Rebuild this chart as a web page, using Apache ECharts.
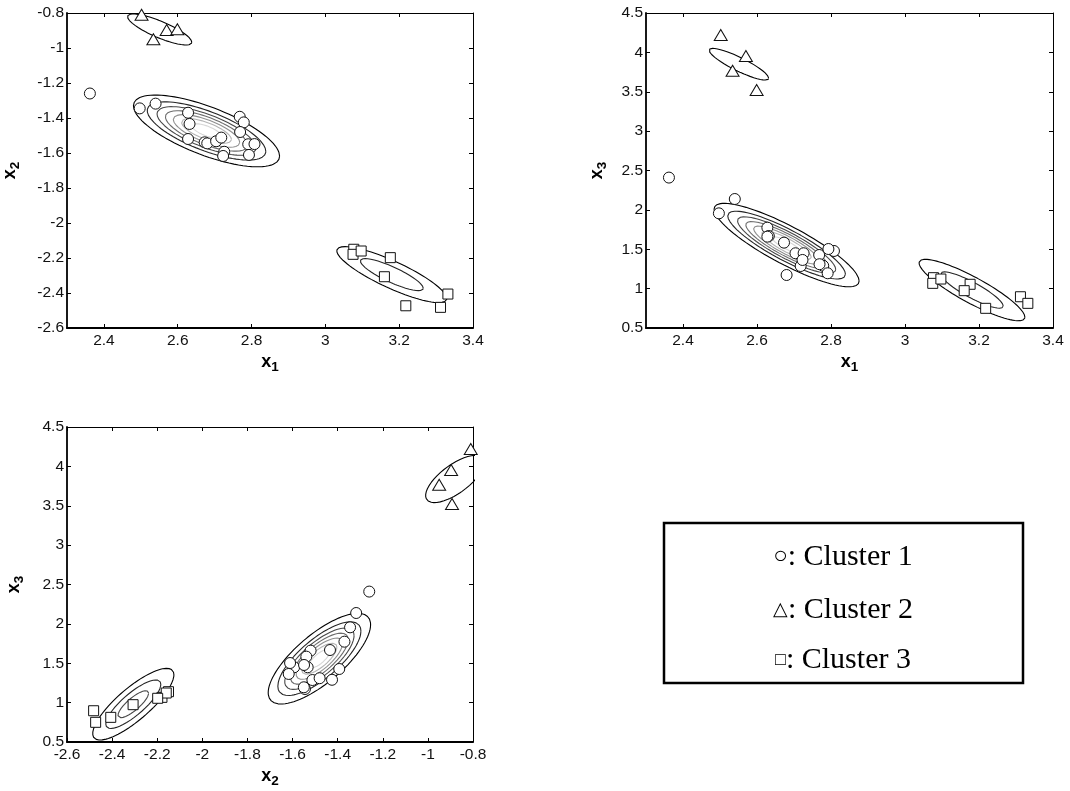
<!DOCTYPE html>
<html><head><meta charset="utf-8">
<script src="https://cdn.jsdelivr.net/npm/echarts@6/dist/echarts.min.js"></script>
<style>html,body{margin:0;padding:0;background:#fff}#c{width:1070px;height:791px}</style>
</head><body><div id="c"></div>
<script>
// ---------- data ----------
// Cluster 1 (circles)
const c1_x1 = [2.362, 2.497, 2.540, 2.628, 2.632, 2.628, 2.673, 2.680, 2.704, 2.718, 2.726, 2.723, 2.768, 2.779, 2.769, 2.791, 2.808, 2.793];
const c1_x2 = [-1.260, -1.345, -1.318, -1.370, -1.434, -1.520, -1.539, -1.545, -1.533, -1.512, -1.593, -1.617, -1.393, -1.425, -1.480, -1.550, -1.549, -1.611];
const c1_x3 = [2.410, 1.956, 2.138, 1.774, 1.668, 1.660, 1.584, 1.173, 1.449, 1.287, 1.449, 1.364, 1.427, 1.290, 1.310, 1.195, 1.478, 1.503];
// Cluster 2 (triangles)
const c2_x1 = [2.502, 2.570, 2.534, 2.599];
const c2_x2 = [-0.810, -0.897, -0.950, -0.893];
const c2_x3 = [4.220, 3.954, 3.767, 3.522];
// Cluster 3 (squares)
const c3_x1 = [3.077, 3.075, 3.097, 3.176, 3.160, 3.218, 3.312, 3.332];
const c3_x2 = [-2.150, -2.179, -2.160, -2.198, -2.307, -2.473, -2.482, -2.406];
const c3_x3 = [1.139, 1.067, 1.122, 1.055, 0.974, 0.750, 0.897, 0.813];

// axis ranges and tick labels
const rangeX1 = [2.3, 3.4];
const rangeX2 = [-2.6, -0.8];
const rangeX3 = [0.5, 4.5];
const ticksX1 = [2.4, 2.6, 2.8, 3, 3.2, 3.4];
const ticksX2 = [-2.6, -2.4, -2.2, -2, -1.8, -1.6, -1.4, -1.2, -1, -0.8];
const ticksX3 = [0.5, 1, 1.5, 2, 2.5, 3, 3.5, 4, 4.5];

// density-contour model per panel and cluster:
// [centre x, centre y, spread x, spread y, correlation, peak/level ratio]
const contourX1X2 = [[2.678, -1.474, 0.198, 0.205, -0.70, 7.6], [2.551, -0.894, 0.087, 0.0886, -0.82, 1.6], [3.180, -2.295, 0.149, 0.160, -0.85, 2.8]];
const contourX1X3 = [[2.680, 1.553, 0.196, 0.530, -0.86, 7.6], [2.551, 3.850, 0.0805, 0.201, -0.88, 1.6], [3.181, 0.982, 0.143, 0.390, -0.88, 2.9]];
const contourX2X3 = [[-1.481, 1.558, 0.227, 0.576, 0.75, 7.6], [-0.880, 3.840, 0.130, 0.300, 0.70, 1.6], [-2.306, 0.980, 0.180, 0.455, 0.82, 3.6]];

const legendSymbols = ['\u25CB', '\u25B3', '\u25A1'];
const legendNames = ['Cluster 1', 'Cluster 2', 'Cluster 3'];

// ---------- build ----------
const FONT = '"Liberation Sans", Arial, sans-serif';
const SERIF = '"Liberation Serif", "Times New Roman", serif';
const clusters = [
  {x1: c1_x1, x2: c1_x2, x3: c1_x3, symbol: 'circle', size: 11},
  {x1: c2_x1, x2: c2_x2, x3: c2_x3, symbol: 'triangle', size: [13, 11]},
  {x1: c3_x1, x2: c3_x2, x3: c3_x3, symbol: 'rect', size: 10}
];
const vars = {
  x1: {range: rangeX1, ticks: ticksX1, sub: '1'},
  x2: {range: rangeX2, ticks: ticksX2, sub: '2'},
  x3: {range: rangeX3, ticks: ticksX3, sub: '3'}
};
const panels = [
  {x: 'x1', y: 'x2', contours: contourX1X2, grid: {left: 66, top: 13, width: 407, height: 315}, xGap: 22, yGap: 45},
  {x: 'x1', y: 'x3', contours: contourX1X3, grid: {left: 646, top: 13, width: 407, height: 315}, xGap: 22, yGap: 37},
  {x: 'x2', y: 'x3', contours: contourX2X3, grid: {left: 67, top: 427, width: 406, height: 315}, xGap: 22, yGap: 41}
];

const nameRich = {
  x: {fontSize: 18, fontWeight: 'bold', fontFamily: FONT, color: '#000'},
  s: {fontSize: 13.5, fontWeight: 'bold', fontFamily: FONT, color: '#000', padding: [10, 0, 0, 0]}
};

function makeAxis(dim, gi, v, main, gap) {
  const a = {
    type: 'value', gridIndex: gi, min: v.range[0], max: v.range[1],
    position: dim === 'x' ? (main ? 'bottom' : 'top') : (main ? 'left' : 'right'),
    splitLine: {show: false},
    axisLine: {show: true, onZero: false, lineStyle: {color: '#000', width: main ? 1.8 : 1}},
    axisTick: {show: true, inside: true, length: 4, customValues: v.ticks, lineStyle: {color: '#000', width: 1}},
    axisLabel: {show: main, customValues: v.ticks, color: '#111', fontSize: 15.5, fontFamily: FONT, margin: dim === 'x' ? 5 : 3}
  };
  if (main) {
    a.name = '{x|x}{s|' + v.sub + '}';
    a.nameLocation = 'middle';
    a.nameGap = gap;
    a.nameTextStyle = {rich: nameRich};
    if (dim === 'y') a.nameRotate = 90;
  }
  return a;
}

function ellipse(p, k) {
  const [cx, cy, sx, sy, rho, q] = p;
  const s = Math.sqrt(Math.log(q / k) / Math.log(q));
  const pts = [];
  const r2 = Math.sqrt(1 - rho * rho);
  for (let i = 0; i <= 90; i++) {
    const t = i / 90 * 2 * Math.PI;
    const u = Math.cos(t), w = Math.sin(t);
    pts.push([cx + s * sx * u, cy + s * sy * (rho * u + r2 * w)]);
  }
  return pts;
}
function levelColor(k) {
  const g = Math.round(215 * (k - 1) / 6);
  return 'rgb(' + g + ',' + g + ',' + g + ')';
}

const grid = [], xAxis = [], yAxis = [], series = [];
panels.forEach((P, gi) => {
  grid.push(P.grid);
  xAxis.push(makeAxis('x', gi, vars[P.x], true, P.xGap));
  xAxis.push(makeAxis('x', gi, vars[P.x], false));
  yAxis.push(makeAxis('y', gi, vars[P.y], true, P.yGap));
  yAxis.push(makeAxis('y', gi, vars[P.y], false));
  P.contours.forEach(p => {
    const n = Math.floor(p[5]);
    for (let k = 1; k <= n; k++) {
      series.push({
        type: 'line', xAxisIndex: gi * 2, yAxisIndex: gi * 2, data: ellipse(p, k),
        showSymbol: false, symbol: 'none', smooth: false, clip: true, silent: true, z: 2,
        lineStyle: {color: levelColor(k), width: 1.1}
      });
    }
  });
  clusters.forEach(c => {
    series.push({
      type: 'scatter', xAxisIndex: gi * 2, yAxisIndex: gi * 2, z: 5,
      symbol: c.symbol, symbolSize: c.size,
      data: c[P.x].map((v, i) => [v, c[P.y][i]]),
      itemStyle: {color: '#fff', borderColor: '#111', borderWidth: 1, opacity: 1}
    });
  });
});

const graphic = [{
  type: 'rect', shape: {x: 664, y: 523, width: 359, height: 160},
  style: {fill: '#fff', stroke: '#000', lineWidth: 2.5}
}];
const legendY = [557, 610, 660];
const symSize = [24, 19, 18];
legendNames.forEach((t, i) => {
  graphic.push({
    type: 'text', x: 843, y: legendY[i],
    style: {
      text: '{s|' + legendSymbols[i] + '}{t|: ' + t + '}',
      rich: {
        s: {fontFamily: SERIF, fontSize: symSize[i], fill: '#000'},
        t: {fontFamily: SERIF, fontSize: 30, fill: '#000'}
      },
      fill: '#000', align: 'center', verticalAlign: 'middle', textAlign: 'center', textVerticalAlign: 'middle'
    }
  });
});

const chart = echarts.init(document.getElementById('c'));
chart.setOption({
  animation: false, backgroundColor: '#fff',
  grid, xAxis, yAxis, series, graphic
});
</script></body></html>
